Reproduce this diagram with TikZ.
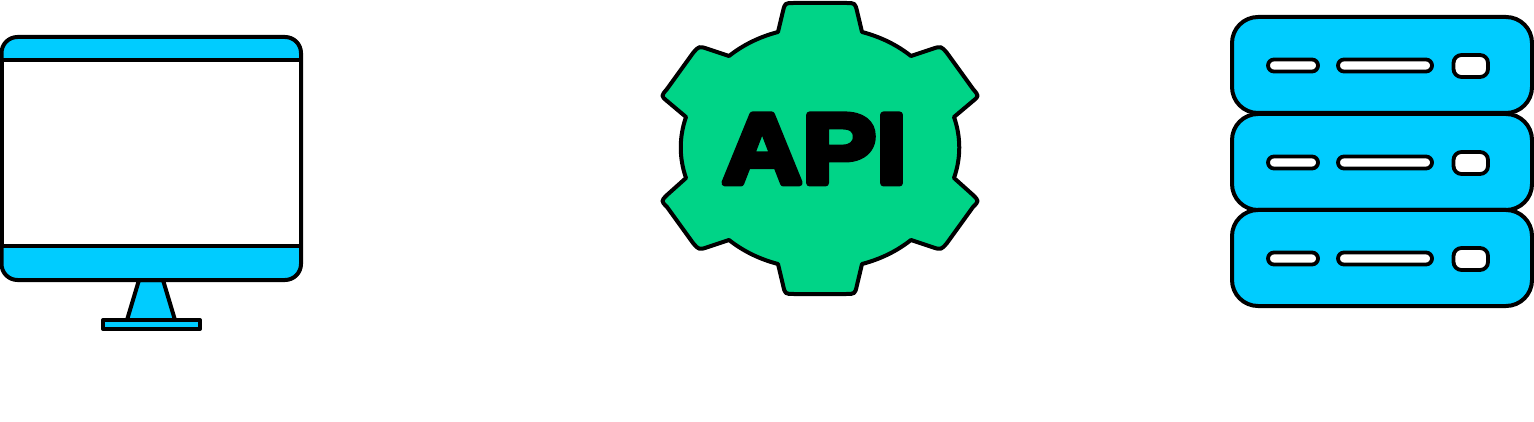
\documentclass[tikz,border=0pt]{standalone}
\usepackage{fontspec}
\newfontfamily\apifont[FakeBold=7,FakeStretch=1.12]{Liberation Sans Bold}
\definecolor{skyfill}{HTML}{00CCFF}
\definecolor{gearfill}{HTML}{00D487}
\tikzset{
  ink/.style={draw=black,line width=2pt,line join=round},
  sky/.style={ink,fill=skyfill},
  slot/.style={ink,fill=white,line width=1.9pt},
}
\begin{document}
\begin{tikzpicture}[x=0.5pt,y=-0.5pt]
\useasboundingbox[fill=white] (0,0) rectangle (1534,422);
% monitor
\draw[sky] (127,320) -- (139,280) -- (163,280) -- (175,320) -- cycle;
\draw[sky] (103,320) rectangle (200,329);
\draw[sky,rounded corners=8pt] (1.5,37) rectangle (301,280);
\draw[ink,fill=white] (1.5,60) rectangle (301,246);
% gear
\draw[ink,fill=gearfill]
  (778,32) -- (783,11) .. controls (785,3) .. (794,3) -- (846,3) .. controls (855,3) .. (857,11) -- (862,32)
  .. controls (881,37) and (897,45) .. (911,56)
  -- (932,49) .. controls (941,46) .. (947,53) -- (973,89) .. controls (979,96) .. (973,101) -- (954,117)
  .. controls (961,137) and (961,158) .. (954,178)
  -- (973,195) .. controls (979,201) .. (973,207) -- (947,243) .. controls (941,250) .. (932,247) -- (911,240)
  .. controls (897,251) and (881,259) .. (862,264)
  -- (857,285) .. controls (855,294) .. (846,294) -- (794,294) .. controls (785,294) .. (783,285) -- (778,264)
  .. controls (759,259) and (743,251) .. (729,240)
  -- (708,247) .. controls (699,250) .. (693,243) -- (667,207) .. controls (661,201) .. (667,195) -- (686,178)
  .. controls (679,158) and (679,137) .. (686,117)
  -- (667,101) .. controls (661,96) .. (667,89) -- (693,53) .. controls (699,46) .. (708,49) -- (729,56)
  .. controls (743,45) and (759,37) .. (778,32) -- cycle;
\node[inner sep=0pt,anchor=base] (apilabel) at (814.5,183) {\special{pdf:code 1 j 1 J}\apifont\fontsize{49.5pt}{49.5pt}\selectfont API};
% server
\foreach \o in {0,97,193}{
  \begin{scope}[shift={(0,\o)}]
  \draw[sky,rounded corners=13pt] (1232,17) rectangle (1532,113);
  \draw[slot,rounded corners=3pt] (1268,59.5) rectangle (1318,71.5);
  \draw[slot,rounded corners=3pt] (1338,59.5) rectangle (1432,71.5);
  \draw[slot,rounded corners=4pt] (1453.5,55) rectangle (1488,77);
  \end{scope}
}
\end{tikzpicture}
\end{document}
